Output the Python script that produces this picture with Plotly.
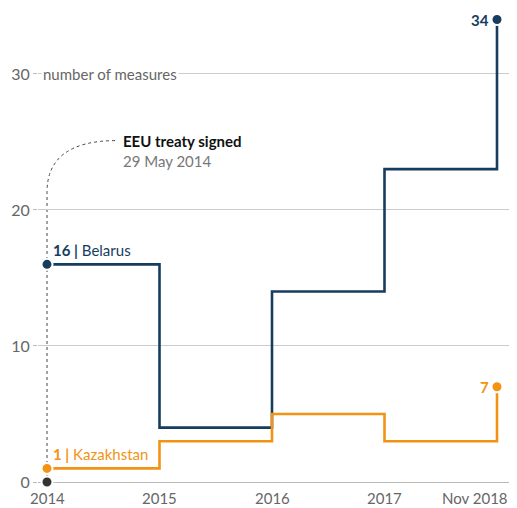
import plotly.graph_objects as go

periods = ["2014", "2015", "2016", "2017", "Nov 2018"]
belarus = [16, 4, 14, 23, 34]
kazakhstan = [1, 3, 5, 3, 7]
y_ticks = [0, 10, 20, 30]
event_title = "EEU treaty signed"
event_date = "29 May 2014"

NAVY = "#173d5e"
ORANGE = "#f39313"
GREY = "#666666"
FONT = "Lato, sans-serif"
FS = 15

x = list(range(len(periods)))

fig = go.Figure()

# event dotted line
fig.add_shape(type="path", xref="x", yref="y",
              path="M 0,0 L 0,21.3 Q 0,25.1 0.62,25.1",
              line=dict(color="#444", width=1, dash="dot"), layer="below")

for vals, col in [(belarus, NAVY), (kazakhstan, ORANGE)]:
    fig.add_trace(go.Scatter(x=x, y=vals, mode="lines", line=dict(color=col, width=2.6, shape="hv"),
                             hoverinfo="skip", showlegend=False, cliponaxis=False))
    fig.add_trace(go.Scatter(x=[x[0], x[-1]], y=[vals[0], vals[-1]], mode="markers",
                             marker=dict(color=col, size=11, line=dict(color="white", width=2)),
                             hoverinfo="skip", showlegend=False, cliponaxis=False))

fig.add_trace(go.Scatter(x=[0], y=[0], mode="markers",
                         marker=dict(color="#333", size=11, line=dict(color="white", width=2)),
                         hoverinfo="skip", showlegend=False, cliponaxis=False))

ann = []
ann.append(dict(x=0, y=belarus[0], xref="x", yref="y", text=f"<b>{belarus[0]} |</b> Belarus",
                showarrow=False, xanchor="left", yanchor="bottom", xshift=4, yshift=3,
                font=dict(color=NAVY, size=FS, family=FONT)))
ann.append(dict(x=0, y=kazakhstan[0], xref="x", yref="y", text=f"<b>{kazakhstan[0]} |</b> Kazakhstan",
                showarrow=False, xanchor="left", yanchor="bottom", xshift=4, yshift=3,
                font=dict(color=ORANGE, size=FS, family=FONT)))
ann.append(dict(x=x[-1], y=belarus[-1], xref="x", yref="y", text=f"<b>{belarus[-1]}</b>",
                showarrow=False, xanchor="right", yanchor="middle", xshift=-6,
                font=dict(color=NAVY, size=FS, family=FONT)))
ann.append(dict(x=x[-1], y=kazakhstan[-1], xref="x", yref="y", text=f"<b>{kazakhstan[-1]}</b>",
                showarrow=False, xanchor="right", yanchor="middle", xshift=-6,
                font=dict(color=ORANGE, size=FS, family=FONT)))
ann.append(dict(x=0.62, y=25.1, xref="x", yref="y",
                text=f"<b>{event_title}</b><br><span style='color:#777'>{event_date}</span>",
                showarrow=False, xanchor="left", yanchor="top", xshift=4, yshift=11, align="left",
                font=dict(color="#111", size=FS, family=FONT)))
ann.append(dict(x=0, y=30, xref="paper", yref="y", text="number of measures",
                showarrow=False, xanchor="left", yanchor="middle", xshift=3, bgcolor="white",
                borderpad=1, font=dict(color=GREY, size=FS, family=FONT)))
for i, lab in enumerate(periods):
    last = i == len(periods) - 1
    ann.append(dict(x=x[i], y=0, xref="x", yref="y", text=lab, showarrow=False,
                    xanchor="right" if last else "center", yanchor="top",
                    xshift=13 if last else 0, yshift=-5,
                    font=dict(color=GREY, size=FS, family=FONT)))
fig.update_layout(annotations=ann)

# page body has an 8px margin: figure occupies x 8..517, y 8..508
fig.update_layout(
    width=509, height=500,
    margin=dict(l=30, r=7, t=2, b=26),
    paper_bgcolor="white", plot_bgcolor="white",
    font=dict(family=FONT, size=FS, color=GREY),
    xaxis=dict(range=[-0.08, 4.1156], showgrid=False, zeroline=False, showticklabels=False,
               showline=False, fixedrange=True),
    yaxis=dict(range=[0, 34.7], tickvals=y_ticks, showgrid=True, gridcolor="#cccccc",
               zeroline=True, zerolinecolor="#bbbbbb", zerolinewidth=1,
               ticks="outside", ticklen=4, tickcolor="#bbbbbb",
               tickfont=dict(color=GREY, size=16, family=FONT), showline=False, fixedrange=True),
)

fig.write_html("out.html")
